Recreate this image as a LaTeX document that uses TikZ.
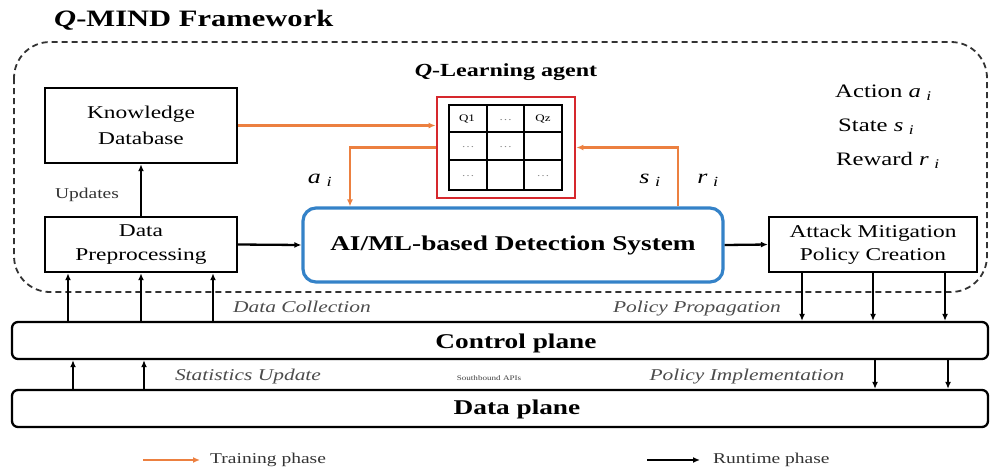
\documentclass[tikz,border=0pt]{standalone}
\usepackage{fontspec}
\setmainfont[FakeStretch=1.3]{Liberation Serif}
\usetikzlibrary{arrows.meta,calc}
\definecolor{trc}{RGB}{236,128,64}
\definecolor{qred}{RGB}{214,40,45}
\definecolor{aiblue}{RGB}{52,130,200}
\begin{document}
\begin{tikzpicture}[x=1pt,y=-1pt,
  blk/.style={draw=black, line width=2.4pt, rectangle, inner sep=0pt, align=center},
  rt/.style={-{Latex[length=7pt,width=6pt]}, line width=2.3pt, black},
  tr/.style={-{Latex[length=7pt,width=6pt]}, line width=2.2pt, trc},
  ital/.style={font=\fontsize{16.5}{18}\selectfont\itshape, text=black!70, inner sep=0pt},
  var/.style={font=\fontsize{19}{22}\selectfont, inner sep=0pt},
  cell/.style={font=\fontsize{10}{12}\selectfont, inner sep=0pt},
]
\useasboundingbox (0,0) rectangle (990,472);

% title
\node[anchor=west, inner sep=0pt, font=\fontsize{23.5}{27}\selectfont\bfseries] (title) at (54,20) {\textit{Q}-MIND Framework};

% dashed framework frame
\draw[dash pattern=on 6pt off 4pt, line width=1.8pt, black!80, rounded corners=36pt] (14,42) rectangle (987,292);

% boxes
\node[blk, minimum width=192pt, minimum height=75pt, font=\fontsize{18}{26}\selectfont] (kd) at (141,125.5) {Knowledge\\Database};
\node[blk, minimum width=192pt, minimum height=55pt, font=\fontsize{18}{24}\selectfont] (dp) at (141,244.5) {Data\\Preprocessing};
\node[draw=aiblue, line width=3.2pt, rounded corners=13pt, minimum width=420pt, minimum height=74pt, inner sep=0pt, font=\fontsize{21}{24}\selectfont\bfseries] (ai) at (513,245) {AI/ML-based Detection System};
\node[blk, minimum width=208pt, minimum height=55pt, font=\fontsize{18}{23}\selectfont] (amp) at (873,244.5) {Attack Mitigation\\Policy Creation};

% Q-learning agent
\node[inner sep=0pt, font=\fontsize{18.5}{22}\selectfont\bfseries] (qtitle) at (506,72) {\textit{Q}-Learning agent};
\node[draw=qred, line width=2.8pt, fill=white, minimum width=138pt, minimum height=101pt, inner sep=0pt] (qbox) at (506,147.5) {};
\draw[line width=2pt] (449,105) rectangle (562,190);
\draw[line width=2pt] (487,105) -- (487,190) (524,105) -- (524,190)
  (449,132) -- (562,132) (449,160) -- (562,160);
\node[cell] (c11) at (467,118.5) {Q1};
\node[cell, text=black!50] (c12) at (505.5,120) {\dots};
\node[cell] (c13) at (543,118.5) {Qz};
\node[cell, text=black!45] (c21) at (468,147) {\dots};
\node[cell, text=black!45] (c22) at (505.5,147) {\dots};
\node[cell, text=black!45] (c31) at (468,176) {\dots};
\node[cell, text=black!45] (c33) at (543,176) {\dots};

% legend of symbols
\node[var, anchor=west] (act) at (835,93) {Action \textit{a}\,\textsubscript{\,\textit{i}}};
\node[var, anchor=west] (st) at (838,127) {State \textit{s}\,\textsubscript{\,\textit{i}}};
\node[var, anchor=west] (rw) at (836,160) {Reward \textit{r}\,\textsubscript{\,\textit{i}}};

% planes
\node[draw, line width=2.3pt, rounded corners=6pt, minimum width=976pt, minimum height=37pt, inner sep=0pt] (cp) at (500,340.5) {};
\node[inner sep=0pt, font=\fontsize{21}{24}\selectfont\bfseries] (cpl) at (516,343) {Control plane};
\node[draw, line width=2.3pt, rounded corners=6pt, minimum width=976pt, minimum height=37pt, inner sep=0pt] (dpl) at (500,408.5) {};
\node[inner sep=0pt, font=\fontsize{21}{24}\selectfont\bfseries] (dpll) at (517,409) {Data plane};

% runtime arrows among boxes
\draw[rt] (dp.north) -- (kd.south);
\node[inner sep=0pt, font=\fontsize{15}{18}\selectfont, text=black!80] (upd) at (87,195) {Updates};
\draw[rt] (dp.east) -- (ai.west);
\draw[rt] (ai.east) -- (amp.west);

% training arrows
\draw[tr] (kd.east) -- (kd.east -| qbox.west);
\coordinate (aL) at (350,0);
\coordinate (aR) at (678,0);
\draw[tr] (qbox.west) -| (ai.north -| aL);
\draw[tr] (ai.north -| aR) |- (qbox.east);
\node[var, font=\fontsize{20}{22}\selectfont] (ai_lbl) at (320,180) {\textit{a}\,\textsubscript{\,\textit{i}}};
\node[var, font=\fontsize{20}{22}\selectfont] (si_lbl) at (650,180) {\textit{s}\,\textsubscript{\,\textit{i}}};
\node[var, font=\fontsize{20}{22}\selectfont] (ri_lbl) at (708,180) {\textit{r}\,\textsubscript{\,\textit{i}}};

% data collection arrows
\coordinate (x1) at (68,0);
\coordinate (x2) at (141,0);
\coordinate (x3) at (213,0);
\foreach \c in {x1,x2,x3} \draw[rt] (cp.north -| \c) -- (dp.south -| \c);
\node[ital, anchor=west] (dcol) at (233,307) {Data Collection};

% policy propagation arrows
\coordinate (p1) at (802,0);
\coordinate (p2) at (873,0);
\coordinate (p3) at (945,0);
\foreach \c in {p1,p2,p3} \draw[rt] (amp.south -| \c) -- (cp.north -| \c);
\node[ital] (pprop) at (697,309) {Policy Propagation};

% statistics update arrows
\coordinate (s1) at (73,0);
\coordinate (s2) at (144,0);
\foreach \c in {s1,s2} \draw[rt] (dpl.north -| \c) -- (cp.south -| \c);
\node[ital] (supd) at (248,377) {Statistics Update};
\node[inner sep=0pt, font=\fontsize{7}{8}\selectfont, text=black!75] (sapi) at (489,378) {Southbound APIs};

% policy implementation arrows
\coordinate (i1) at (875,0);
\coordinate (i2) at (948,0);
\foreach \c in {i1,i2} \draw[rt] (cp.south -| \c) -- (dpl.north -| \c);
\node[ital] (pimp) at (747,377) {Policy Implementation};

% legend
\coordinate (lt1) at (143,460);
\coordinate (lt2) at (200,460);
\draw[tr, line width=2pt] (lt1) -- (lt2);
\node[inner sep=0pt, anchor=west, font=\fontsize{15}{18}\selectfont, text=black!80] (ltr) at (210,460) {Training phase};
\coordinate (lr1) at (647,460);
\coordinate (lr2) at (700,460);
\draw[rt, line width=2pt] (lr1) -- (lr2);
\node[inner sep=0pt, anchor=west, font=\fontsize{15}{18}\selectfont, text=black!80] (lrt) at (713,460) {Runtime phase};
\end{tikzpicture}
\end{document}
